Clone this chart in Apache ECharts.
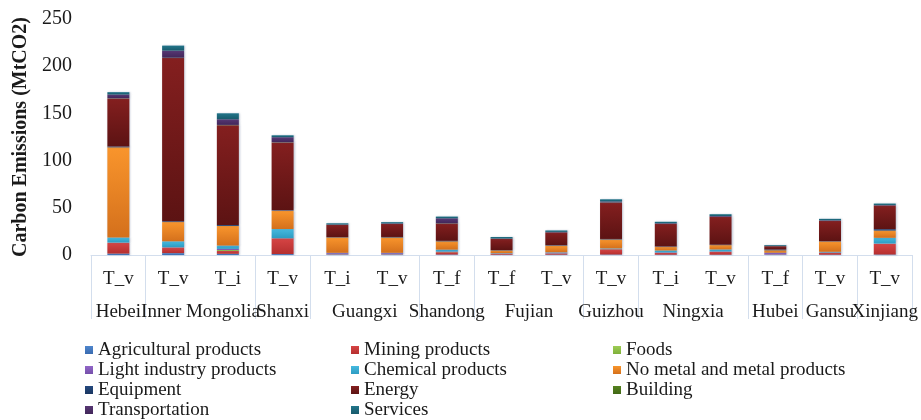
<!DOCTYPE html>
<html><head><meta charset="utf-8">
<script src="https://cdn.jsdelivr.net/npm/echarts@6/dist/echarts.min.js"></script>
<style>html,body{margin:0;padding:0;background:#fff}#c{width:921px;height:420px}</style>
</head><body><div id="c"></div>
<script>
// ---- data ----
const typeLabels = ['T_v','T_v','T_i','T_v','T_i','T_v','T_f','T_f','T_v','T_v','T_i','T_v','T_f','T_v','T_v'];
const provinces = ['Hebei','Inner Mongolia','Shanxi','Guangxi','Shandong','Fujian','Guizhou','Ningxia','Hubei','Gansu','Xinjiang'];
const provinceBarCounts = [1,2,1,2,1,2,1,2,1,1,1];
const yTicks = [0, 50, 100, 150, 200, 250];

const agricultural = [1.5, 2, 1.3, 1, 0.2, 0.2, 0.5, 0.3, 0.3, 0.5, 0.3, 0.3, 0.2, 0.3, 0.5];
const mining       = [11.2, 5.6, 3, 16.5, 0.3, 0.3, 2.5, 1, 1.2, 5.5, 1.8, 3, 0.3, 2, 11.2];
const foods        = [0.3, 0.4, 1, 0.2, 0.2, 0.2, 0.3, 0.1, 0.2, 0.2, 0.2, 0.2, 0.1, 0.2, 0.2];
const lightIndustry= [0.3, 0.5, 1.2, 0.3, 1.3, 1.3, 0.4, 0.3, 0.8, 0.3, 0.5, 0.4, 1.6, 0.3, 0.3];
const chemical     = [5.3, 6, 3.5, 9.5, 0.3, 0.3, 2, 0.3, 0.4, 0.5, 2, 2, 0.2, 0.6, 6];
const noMetal      = [95.5, 20.4, 20.7, 19.3, 16.3, 16.3, 8.8, 2.8, 7, 9.5, 3.9, 4.6, 2.6, 10.9, 7.7];
const equipment    = [0.8, 0.8, 1, 0.5, 0.3, 0.5, 0.5, 0.3, 0.5, 0.5, 0.3, 0.4, 0.8, 0.3, 1.5];
const energy       = [51, 173, 105.8, 72, 13, 13.8, 18.4, 12, 13.5, 38.5, 24, 29.5, 3.5, 21.6, 25];
const building     = [0.2, 0.3, 0.3, 0.2, 0.1, 0.1, 0.2, 0.1, 0.1, 0.2, 0.1, 0.1, 0.1, 0.1, 0.1];
const transportation=[3.9, 7.5, 6, 5.3, 0.3, 0.5, 5.3, 0.3, 0.5, 1, 0.6, 0.8, 0.3, 0.5, 0.5];
const services     = [2.5, 5.3, 6.3, 2, 1.3, 1.3, 1.8, 1.6, 1.5, 2.3, 1.5, 1.9, 0.8, 1.5, 1.5];

const seriesDefs = [
  ['Agricultural products', agricultural, '#4f86cc', '#3a6bb0'],
  ['Mining products', mining, '#d64444', '#b52f2f'],
  ['Foods', foods, '#9dcc55', '#7fb03a'],
  ['Light industry products', lightIndustry, '#9166c8', '#7550aa'],
  ['Chemical products', chemical, '#45b9df', '#2e9cc2'],
  ['No metal and metal products', noMetal, '#f9952c', '#d4701c'],
  ['Equipment', equipment, '#24497e', '#1a3661'],
  ['Energy', energy, '#841f1f', '#5c1313'],
  ['Building', building, '#55821f', '#426816'],
  ['Transportation', transportation, '#573673', '#41275a'],
  ['Services', services, '#22758a', '#175a6b']
];

// half-slot positions for the province (group) axis: 2 slots per bar
const bounds = [0];
provinceBarCounts.forEach(c => bounds.push(bounds[bounds.length - 1] + c));
const nSlots = bounds[bounds.length - 1] * 2;
const boundaryIdx = new Set(bounds.map(b => b * 2));
const provinceSlots = Array.from({length: nSlots + 1}, () => '');
provinceBarCounts.forEach((c, i) => { provinceSlots[bounds[i] * 2 + c] = provinces[i]; });

const serif = 'Liberation Serif';
const chart = echarts.init(document.getElementById('c'), null, {renderer: 'canvas'});

const series = seriesDefs.map(([name, data, c1, c2]) => ({
  name, type: 'bar', stack: 'all', data, barWidth: 22, xAxisIndex: 0,
  itemStyle: {
    color: new echarts.graphic.LinearGradient(0, 0, 0, 1, [{offset: 0, color: c1}, {offset: 1, color: c2}]),
    shadowColor: 'rgba(80,100,140,0.35)', shadowBlur: 2, shadowOffsetX: 1
  },
  emphasis: {disabled: true}
}));

const legendCol = (names, left) => ({
  orient: 'vertical', left, top: 340, height: 80, padding: 0, itemGap: 0,
  itemWidth: 8, itemHeight: 8, icon: 'rect',
  data: names,
  textStyle: {fontFamily: serif, fontSize: 19, lineHeight: 20, color: '#1a1a1a'}
});

chart.setOption({
  animation: false,
  grid: {left: 91, right: 8, top: 19, bottom: 165},
  legend: [
    legendCol(['Agricultural products', 'Light industry products', 'Equipment', 'Transportation'], 85),
    legendCol(['Mining products', 'Chemical products', 'Energy', 'Services'], 351),
    legendCol(['Foods', 'No metal and metal products', 'Building'], 613)
  ],
  xAxis: [
    {
      type: 'category', data: typeLabels, position: 'bottom',
      axisLine: {show: true, lineStyle: {color: '#d3deed', width: 1}},
      axisTick: {show: false},
      axisLabel: {interval: 0, margin: 15, fontFamily: serif, fontSize: 19, color: '#1a1a1a'}
    },
    {
      type: 'category', data: provinceSlots, boundaryGap: false, position: 'bottom',
      axisLine: {show: false},
      splitLine: {show: false},
      axisTick: {show: true, interval: (idx) => boundaryIdx.has(idx), length: 64,
                 lineStyle: {color: '#d3deed', width: 1}},
      axisLabel: {interval: 0, margin: 48, fontFamily: serif, fontSize: 19, color: '#1a1a1a'}
    }
  ],
  yAxis: {
    type: 'value', min: yTicks[0], max: yTicks[yTicks.length - 1], interval: yTicks[1] - yTicks[0],
    name: 'Carbon Emissions (MtCO2)', nameLocation: 'middle', nameGap: 60,
    nameTextStyle: {fontFamily: serif, fontSize: 20, fontWeight: 'bold', color: '#1a1a1a'},
    axisLine: {show: false}, axisTick: {show: false}, splitLine: {show: false},
    axisLabel: {margin: 19, fontFamily: serif, fontSize: 20, color: '#1a1a1a'}
  },
  series
});
</script>
</body></html>
